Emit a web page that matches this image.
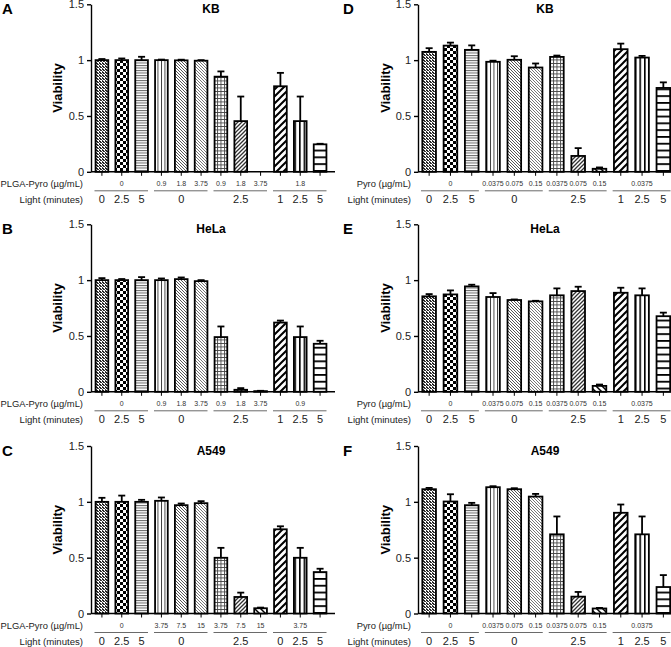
<!DOCTYPE html>
<html>
<head>
<meta charset="utf-8">
<script src="https://cdn.jsdelivr.net/npm/d3@7"></script>
<style>
  body { margin: 0; background: #fff; }
  text { font-family: 'Liberation Sans', Arial, sans-serif; }
</style>
</head>
<body>
<div id="chart"></div>
<script>
const width = 671
const height = 647

const bars = d3.range(12)
const yTicks = [0, 0.5, 1, 1.5]

// viability values per panel (bar order 0..11)
const kbPlga = [1.0, 1.0, 1.0, 1.0, 0.998, 0.995, 0.852, 0.454, 0, 0.766, 0.454, 0.246]
const kbPlgaErr = [0.01, 0.015, 0.03, 0.005, 0.006, 0.005, 0.047, 0.22, 0, 0.12, 0.22, 0.005]
const helaPlga = [1.0, 1.0, 1.0, 1.0, 1.009, 0.991, 0.49, 0.018, 0.006, 0.62, 0.49, 0.43]
const helaPlgaErr = [0.018, 0.01, 0.027, 0.015, 0.015, 0.009, 0.095, 0.015, 0.003, 0.018, 0.095, 0.027]
const a549Plga = [1.0, 1.0, 1.0, 1.009, 0.97, 0.988, 0.499, 0.148, 0.047, 0.754, 0.499, 0.371]
const a549PlgaErr = [0.036, 0.056, 0.018, 0.03, 0.015, 0.018, 0.089, 0.039, 0.006, 0.027, 0.089, 0.03]
const kbPyro = [1.074, 1.13, 1.092, 0.985, 1.003, 0.934, 1.029, 0.142, 0.027, 1.098, 1.023, 0.751]
const kbPyroErr = [0.033, 0.027, 0.04, 0.01, 0.032, 0.036, 0.012, 0.07, 0.012, 0.05, 0.015, 0.05]
const helaPyro = [0.855, 0.872, 0.944, 0.849, 0.822, 0.81, 0.864, 0.902, 0.053, 0.887, 0.864, 0.677]
const helaPyroErr = [0.02, 0.036, 0.015, 0.035, 0.005, 0.005, 0.062, 0.039, 0.012, 0.045, 0.062, 0.032]
const a549Pyro = [1.113, 1.003, 0.97, 1.131, 1.113, 1.047, 0.709, 0.151, 0.045, 0.902, 0.709, 0.237]
const a549PyroErr = [0.012, 0.065, 0.021, 0.009, 0.009, 0.024, 0.16, 0.042, 0.005, 0.074, 0.16, 0.107]

// x label rows
const doseKB = ['', '0', '', '0.9', '1.8', '3.75', '0.9', '1.8', '3.75', '', '1.8', '']
const doseHela = ['', '0', '', '0.9', '1.8', '3.75', '0.9', '1.8', '3.75', '', '0.9', '']
const doseA549 = ['', '0', '', '3.75', '7.5', '15', '3.75', '7.5', '15', '', '3.75', '']
const dosePyro = ['', '0', '', '0.0375', '0.075', '0.15', '0.0375', '0.075', '0.15', '', '0.0375', '']
const lightA = ['0', '2.5', '5', '', '0', '', '', '2.5', '', '1', '2.5', '5']
const lightC = ['0', '2.5', '5', '', '0', '', '', '2.5', '', '0', '2.5', '5']
const groups = [[0, 2], [3, 5], [6, 8], [9, 11]]

const left = { axisX: 91, range: [92, 330], end: 335, labelX: 83, letterX: 2, titleX: 211, viaX: 57 }
const right = { axisX: 418, range: [418.5, 674], end: 671, labelX: 411, letterX: 343, titleX: 545, viaX: 385 }
const tops = [4.3, 224.3, 446]
const plotH = 167.5

const panels = [
  { side: left, top: tops[0], letter: 'A', title: 'KB', values: kbPlga, errs: kbPlgaErr, dose: doseKB, doseName: 'PLGA-Pyro (\u00b5g/mL)', light: lightA },
  { side: left, top: tops[1], letter: 'B', title: 'HeLa', values: helaPlga, errs: helaPlgaErr, dose: doseHela, doseName: 'PLGA-Pyro (\u00b5g/mL)', light: lightA },
  { side: left, top: tops[2], letter: 'C', title: 'A549', values: a549Plga, errs: a549PlgaErr, dose: doseA549, doseName: 'PLGA-Pyro (\u00b5g/mL)', light: lightC },
  { side: right, top: tops[0], letter: 'D', title: 'KB', values: kbPyro, errs: kbPyroErr, dose: dosePyro, doseName: 'Pyro (\u00b5g/mL)', light: lightA },
  { side: right, top: tops[1], letter: 'E', title: 'HeLa', values: helaPyro, errs: helaPyroErr, dose: dosePyro, doseName: 'Pyro (\u00b5g/mL)', light: lightA },
  { side: right, top: tops[2], letter: 'F', title: 'A549', values: a549Pyro, errs: a549PyroErr, dose: dosePyro, doseName: 'Pyro (\u00b5g/mL)', light: lightA }
]

const svg = d3
  .select('#chart')
  .append('svg')
  .attr('width', width)
  .attr('height', height)

const defs = svg.append('defs')

// hatch patterns, one per bar position
function pattern(id, w, h, draw) {
  const p = defs
    .append('pattern')
    .attr('id', id)
    .attr('patternUnits', 'userSpaceOnUse')
    .attr('width', w)
    .attr('height', h)
  p.append('rect').attr('width', w).attr('height', h).attr('fill', '#fff')
  draw(p)
}

pattern('p0', 3, 3, p => {
  p.append('rect').attr('width', 2).attr('height', 1).attr('fill', '#222')
  p.append('rect').attr('x', 1).attr('y', 1).attr('width', 2).attr('height', 1).attr('fill', '#333')
  p.append('rect').attr('x', 0).attr('y', 2).attr('width', 1).attr('height', 1).attr('fill', '#444')
})
pattern('p1', 6, 6, p => {
  p.append('rect').attr('width', 3).attr('height', 3).attr('fill', '#000')
  p.append('rect').attr('x', 3).attr('y', 3).attr('width', 3).attr('height', 3).attr('fill', '#000')
})
pattern('p2', 4, 2.5, p => {
  p.append('rect').attr('width', 4).attr('height', 1).attr('fill', '#666')
})
pattern('p3', 3.5, 4, p => {
  p.append('rect').attr('width', 0.9).attr('height', 4).attr('fill', '#333')
})
pattern('p4', 3, 3, p => {
  p.append('path').attr('d', 'M0,0L3,3M-1,2L1,4M2,-1L4,1').attr('stroke', '#555').attr('stroke-width', 1)
})
pattern('p5', 3, 3, p => {
  p.append('path').attr('d', 'M0,0L3,3M-1,2L1,4M2,-1L4,1').attr('stroke', '#666').attr('stroke-width', 0.9)
})
pattern('p6', 3.5, 3.5, p => {
  p.append('path').attr('d', 'M0.5,0V3.5M0,0.5H3.5').attr('stroke', '#444').attr('stroke-width', 0.9)
})
pattern('p7', 4, 4, p => {
  p.append('path').attr('d', 'M0,4L4,0M-1,1L1,-1M3,5L5,3').attr('stroke', '#333').attr('stroke-width', 1.3)
})
pattern('p8', 6, 6, p => {
  p.append('path').attr('d', 'M0,0L6,6M-1,5L1,7M5,-1L7,1').attr('stroke', '#000').attr('stroke-width', 1.5)
})
pattern('p9', 7, 7, p => {
  p.append('path').attr('d', 'M0,7L7,0M-1,1L1,-1M6,8L8,6').attr('stroke', '#000').attr('stroke-width', 2)
})
pattern('p10', 4.6, 6, p => {
  p.append('rect').attr('x', 0).attr('width', 1.6).attr('height', 6).attr('fill', '#000')
})
pattern('p11', 6, 6.8, p => {
  p.append('rect').attr('y', 0).attr('width', 6).attr('height', 1.8).attr('fill', '#000')
})

panels.forEach(panel => {
  const side = panel.side
  const zero = panel.top + plotH

  const xScale = d3
    .scaleBand()
    .domain(bars)
    .range(side.range)
    .paddingInner(0.36)
    .paddingOuter(0.18)

  const yScale = d3
    .scaleLinear()
    .domain([0, 1.5])
    .range([zero, panel.top])

  const step = xScale.step()
  const center = i => xScale(i) + xScale.bandwidth() / 2
  const bandStart = i => center(i) - step / 2
  const bandEnd = i => center(i) + step / 2

  const holder = svg.append('g')

  // y axis
  const yAxis = d3
    .axisLeft(yScale)
    .tickValues(yTicks)
    .tickFormat(d => String(d))
    .tickSize(4)
    .tickSizeOuter(0)
    .tickPadding(3)

  holder
    .append('g')
    .attr('transform', `translate(${side.axisX},0)`)
    .call(yAxis)
    .call(g => g.selectAll('text').attr('font-size', 11).attr('fill', '#222').attr('font-family', 'Liberation Sans, Arial, sans-serif'))
    .call(g => g.selectAll('line, path').attr('stroke', '#000').attr('stroke-width', 1.4))

  // x baseline and ticks
  const xAxis = d3
    .axisBottom(xScale)
    .tickSize(4)
    .tickSizeOuter(0)
    .tickFormat('')

  holder
    .append('g')
    .attr('transform', `translate(0,${zero})`)
    .call(xAxis)
    .call(g => g.select('.domain').remove())
    .call(g => g.selectAll('line').attr('stroke', '#000').attr('stroke-width', 1))

  holder
    .append('line')
    .attr('x1', side.axisX)
    .attr('x2', side.end)
    .attr('y1', zero)
    .attr('y2', zero)
    .attr('stroke', '#000')
    .attr('stroke-width', 1.4)

  // bars
  holder
    .append('g')
    .selectAll('rect')
    .data(panel.values)
    .enter()
    .append('rect')
    .attr('x', (d, i) => xScale(i))
    .attr('y', d => yScale(d))
    .attr('width', xScale.bandwidth())
    .attr('height', d => zero - yScale(d))
    .attr('fill', (d, i) => `url(#p${i})`)
    .attr('stroke', '#000')
    .attr('stroke-width', 1.8)

  // error bars
  const errData = panel.values
    .map((v, i) => ({ i: i, v: v, e: panel.errs[i] }))
    .filter(d => d.e > 0)

  const err = holder
    .append('g')
    .selectAll('g')
    .data(errData)
    .enter()
    .append('g')
    .attr('stroke', '#000')
    .attr('stroke-width', 1.8)

  err
    .append('line')
    .attr('x1', d => center(d.i))
    .attr('x2', d => center(d.i))
    .attr('y1', d => yScale(d.v))
    .attr('y2', d => yScale(d.v + d.e))

  err
    .append('line')
    .attr('x1', d => center(d.i) - 3.5)
    .attr('x2', d => center(d.i) + 3.5)
    .attr('y1', d => yScale(d.v + d.e))
    .attr('y2', d => yScale(d.v + d.e))

  // dose labels
  holder
    .append('g')
    .selectAll('text')
    .data(panel.dose)
    .enter()
    .append('text')
    .attr('x', (d, i) => center(i))
    .attr('y', zero + 14)
    .attr('text-anchor', 'middle')
    .attr('font-size', 7)
    .attr('fill', '#333')
    .text(d => d)

  // group lines
  holder
    .append('g')
    .selectAll('line')
    .data(groups)
    .enter()
    .append('line')
    .attr('x1', d => bandStart(d[0]) + 2.5)
    .attr('x2', d => bandEnd(d[1]) - 3.5)
    .attr('y1', zero + 19)
    .attr('y2', zero + 19)
    .attr('stroke', '#444')
    .attr('stroke-width', 0.8)

  // light labels
  holder
    .append('g')
    .selectAll('text')
    .data(panel.light)
    .enter()
    .append('text')
    .attr('x', (d, i) => center(i))
    .attr('y', zero + 31)
    .attr('text-anchor', 'middle')
    .attr('font-size', 11)
    .attr('fill', '#222')
    .text(d => d)

  holder
    .append('text')
    .attr('x', side.labelX)
    .attr('y', zero + 15)
    .attr('text-anchor', 'end')
    .attr('font-size', 9.4)
    .attr('fill', '#222')
    .text(panel.doseName)

  holder
    .append('text')
    .attr('x', side.labelX)
    .attr('y', zero + 31)
    .attr('text-anchor', 'end')
    .attr('font-size', 9.6)
    .attr('fill', '#222')
    .text('Light (minutes)')

  // titles
  holder
    .append('text')
    .attr('x', side.titleX)
    .attr('y', panel.top + 8.5)
    .attr('text-anchor', 'middle')
    .attr('font-size', 12)
    .attr('font-weight', 'bold')
    .text(panel.title)

  holder
    .append('text')
    .attr('x', side.letterX)
    .attr('y', panel.top + 9.5)
    .attr('font-size', 15)
    .attr('font-weight', 'bold')
    .text(panel.letter)

  holder
    .append('text')
    .attr('transform', `translate(${side.viaX},${(zero + panel.top) / 2}) rotate(-90)`)
    .attr('text-anchor', 'middle')
    .attr('dy', '0.35em')
    .attr('font-size', 13)
    .attr('font-weight', 'bold')
    .text('Viability')
})
</script>
</body>
</html>
